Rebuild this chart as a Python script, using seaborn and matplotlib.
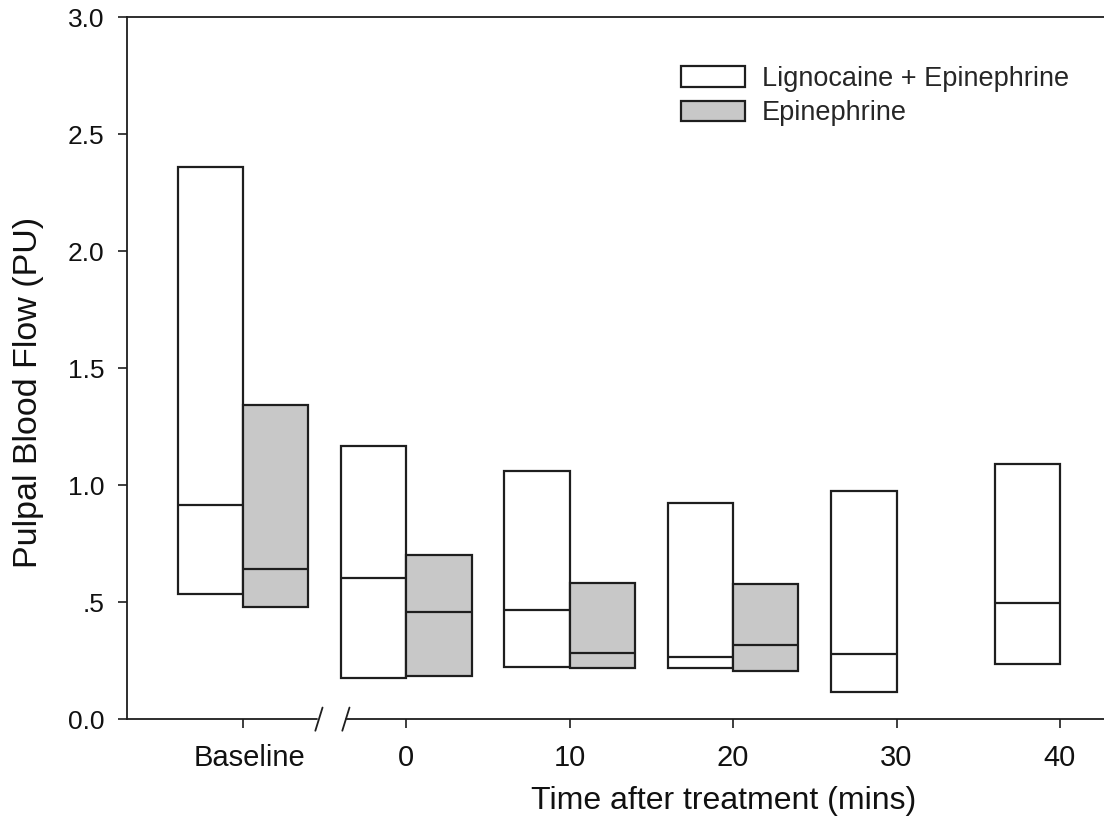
import numpy as np
import pandas as pd
import seaborn as sns
import matplotlib.pyplot as plt
from matplotlib.patches import Patch
from matplotlib.transforms import blended_transform_factory, ScaledTranslation

times = ["Baseline", "0", "10", "20", "30", "40"]

# Lignocaine + Epinephrine: lower quartile, median, upper quartile
lig_q1 = [0.535, 0.176, 0.226, 0.222, 0.116, 0.237]
lig_med = [0.915, 0.606, 0.466, 0.269, 0.278, 0.496]
lig_q3 = [2.359, 1.169, 1.060, 0.923, 0.976, 1.090]

# Epinephrine only (no data at 30 and 40)
epi_times = ["Baseline", "0", "10", "20"]
epi_q1 = [0.482, 0.186, 0.222, 0.205]
epi_med = [0.643, 0.460, 0.282, 0.316]
epi_q3 = [1.343, 0.702, 0.585, 0.577]

groups = ["Lignocaine + Epinephrine", "Epinephrine"]
colors = {"Lignocaine + Epinephrine": "white", "Epinephrine": "#c8c8c8"}

# five points per box so quartiles and median land exactly on the read values
rows = []
for t, a, m, b in zip(times, lig_q1, lig_med, lig_q3):
    for v in [a, a, m, b, b]:
        rows.append({"time": t, "flow": v, "group": groups[0]})
for t, a, m, b in zip(epi_times, epi_q1, epi_med, epi_q3):
    for v in [a, a, m, b, b]:
        rows.append({"time": t, "flow": v, "group": groups[1]})
df = pd.DataFrame(rows)

sns.set_style("ticks")
plt.rcParams["font.family"] = ["Liberation Sans", "DejaVu Sans"]

fig = plt.figure(figsize=(11.04, 8.34), dpi=100)
ax = fig.add_axes([0.115, 0.1373, 0.885, 0.8423])

edge = "#1e1e1e"
sns.boxplot(data=df, x="time", y="flow", hue="group", order=times, hue_order=groups,
            palette=colors, saturation=1, width=0.8, gap=0, whis=0,
            showcaps=False, showfliers=False, linecolor=edge, linewidth=1.6,
            legend=False, ax=ax)

ax.set_xlim(-0.71, 5.27)
ax.set_ylim(0, 3.0)
ax.set_yticks([0, 0.5, 1.0, 1.5, 2.0, 2.5, 3.0])
ax.set_yticklabels(["0.0", ".5", "1.0", "1.5", "2.0", "2.5", "3.0"])
ax.tick_params(axis="both", direction="out", length=6.5, width=1.2, color=edge,
               labelcolor="#111111")
ax.tick_params(axis="y", pad=9.5, labelsize=19)
ax.tick_params(axis="x", pad=11, labelsize=21)

# "Baseline" sits a little right of its tick in the original
lbl = ax.get_xticklabels()[0]
lbl.set_transform(lbl.get_transform() + ScaledTranslation(5 / 72, 0, fig.dpi_scale_trans))

for s in ["left", "top"]:
    ax.spines[s].set_linewidth(1.3)
    ax.spines[s].set_color(edge)
ax.spines["right"].set_visible(False)
ax.spines["bottom"].set_visible(False)

# broken x axis
tr = blended_transform_factory(ax.transData, ax.transAxes)
ax.plot([-0.71, 0.455], [0, 0], transform=tr, color=edge, lw=1.3, clip_on=False)
ax.plot([0.63, 5.27], [0, 0], transform=tr, color=edge, lw=1.3, clip_on=False)
for xb in [0.465, 0.63]:
    ax.plot([xb - 0.022, xb + 0.022], [-0.016, 0.017], transform=tr, color=edge,
            lw=1.3, clip_on=False)

ax.set_xlabel("Time after treatment (mins)", fontsize=23, color="#111111")
ax.set_ylabel("Pulpal Blood Flow (PU)", fontsize=24.5, color="#111111")
ax.xaxis.set_label_coords(0.611, -0.094)
ax.yaxis.set_label_coords(-0.085, 0.466)

handles = [Patch(facecolor=colors[g], edgecolor=edge, linewidth=1.6) for g in groups]
ax.legend(handles, groups, loc="upper left", bbox_to_anchor=(0.567, 0.93),
          frameon=False, fontsize=19.5, handlelength=2.37, handleheight=0.8,
          handletextpad=0.63, labelspacing=0.3, borderpad=0, borderaxespad=0)

fig.savefig("out.png", dpi=100)
